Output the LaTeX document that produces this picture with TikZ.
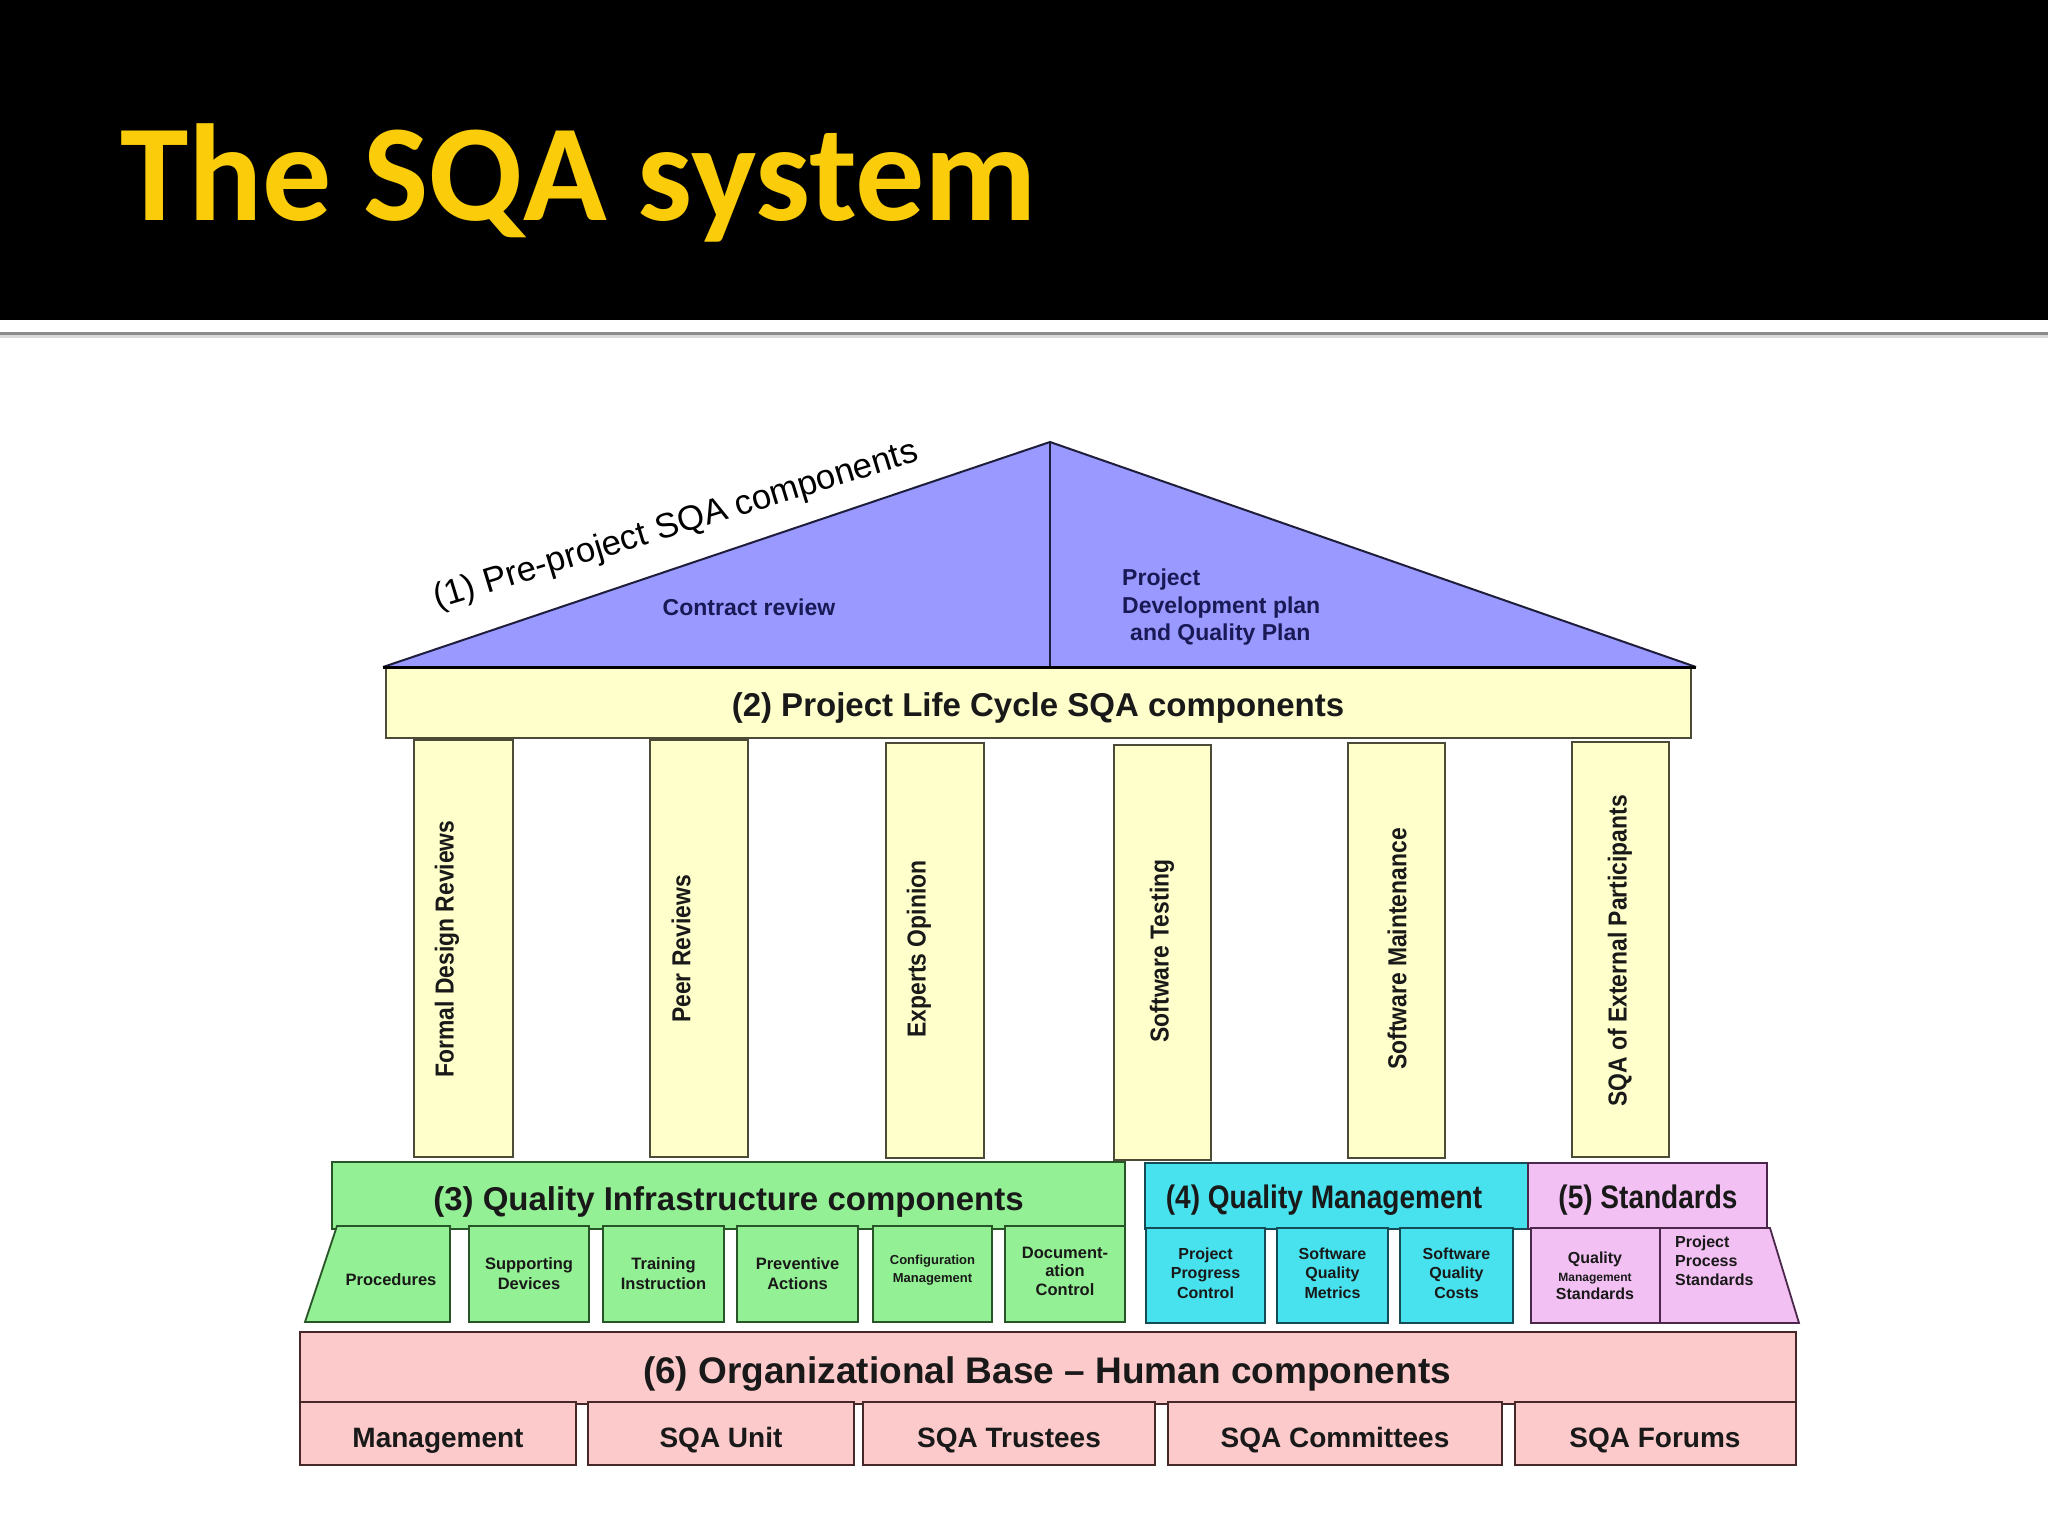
\documentclass[tikz,border=0pt]{standalone}
\usepackage{fontspec}
\setmainfont{Liberation Sans}
\newfontfamily\narrowf[FakeStretch=0.86]{Liberation Sans}
\newfontfamily\pillarf[FakeStretch=0.88]{Liberation Sans}
\newfontfamily\titlef{Carlito}
\definecolor{titlecol}{RGB}{250,204,10}
\definecolor{trifill}{RGB}{153,153,255}
\definecolor{tridraw}{RGB}{30,30,60}
\definecolor{tritext}{RGB}{25,25,85}
\definecolor{yfill}{RGB}{255,255,204}
\definecolor{ydraw}{RGB}{75,75,55}
\definecolor{gfill}{RGB}{148,240,148}
\definecolor{gdraw}{RGB}{40,85,40}
\definecolor{cfill}{RGB}{72,226,238}
\definecolor{cdraw}{RGB}{20,75,85}
\definecolor{sfill}{RGB}{242,192,242}
\definecolor{sdraw}{RGB}{75,40,75}
\definecolor{ofill}{RGB}{252,202,202}
\definecolor{odraw}{RGB}{70,40,40}
\tikzset{
  ybox/.style={draw=ydraw, fill=yfill, line width=1.6pt},
  gbox/.style={draw=gdraw, fill=gfill, line width=1.8pt},
  cbox/.style={draw=cdraw, fill=cfill, line width=1.8pt},
  sbox/.style={draw=sdraw, fill=sfill, line width=1.8pt},
  obox/.style={draw=odraw, fill=ofill, line width=1.8pt},
  lbl/.style={inner sep=0pt, text=black!90},
  pilltxt/.style={lbl, rotate=90, font=\pillarf\bfseries\fontsize{26}{30}\selectfont},
  subtxt/.style={lbl, align=center, font=\bfseries\fontsize{16.5}{20}\selectfont},
  head/.style={lbl, anchor=base, font=\bfseries\fontsize{33}{38}\selectfont},
  narrowhead/.style={lbl, anchor=base, font=\narrowf\bfseries\fontsize{32.6}{38}\selectfont},
  orgtxt/.style={lbl, anchor=base, font=\bfseries\fontsize{28}{32}\selectfont},
  tritxt/.style={inner sep=0pt, text=tritext, font=\bfseries\fontsize{23}{27.5}\selectfont},
}
\begin{document}
\begin{tikzpicture}[x=1pt,y=-1pt]
\useasboundingbox (0,0) rectangle (2048,1536);
\fill[white] (0,0) rectangle (2048,1536);
% header band
\fill[black] (0,0) rectangle (2048,320);
\node[anchor=base west, inner sep=0pt, text=titlecol, font=\titlef\bfseries\fontsize{138}{160}\selectfont] (title) at (120,220) {The SQA system};
\draw[black!45, line width=3pt] (0,333) -- (2048,333);
\draw[black!15, line width=2.5pt] (0,336.5) -- (2048,336.5);

% roof
\coordinate (apex) at (1050,442);
\coordinate (rl) at (383,667);
\coordinate (rr) at (1696,667);
\coordinate (rm) at (1050,667);
\fill[trifill] (rl) -- (apex) -- (rr) -- cycle;
\draw[tridraw, line width=2pt] (rl) -- (apex) -- (rr);
\draw[tridraw, line width=2pt] (apex) -- (rm);
\node[inner sep=0pt, anchor=base west, rotate=17, font=\fontsize{34.8}{40}\selectfont] (pre) at (437,608.5) {(1) Pre-project SQA components};
\node[tritxt, anchor=base] (contract) at (749,615) {Contract review};
\node[tritxt, anchor=base west] (plan1) at (1122,585) {Project};
\node[tritxt, anchor=base west] (plan2) at (1122,613) {Development plan};
\node[tritxt, anchor=base west] (plan3) at (1130,640) {and Quality Plan};

% beam
\path[ybox] (386,667) rectangle (1691,738);
\draw[black, line width=3pt] (rl) -- (rr);
\node[head] (beam) at (1038,716) {(2) Project Life Cycle SQA components};

% pillars
\path[ybox] (414,740) rectangle (513,1157);
\path[ybox] (650,740) rectangle (748,1157);
\path[ybox] (886,743) rectangle (984,1158);
\path[ybox] (1114,745) rectangle (1211,1160);
\path[ybox] (1348,743) rectangle (1445,1158);
\path[ybox] (1572,742) rectangle (1669,1157);
\node[pilltxt] (p1) at (447,949) {Formal Design Reviews};
\node[pilltxt] (p2) at (681,949) {Peer Reviews};
\node[pilltxt] (p3) at (919,949) {Experts Opinion};
\node[pilltxt] (p4) at (1162,951) {Software Testing};
\node[pilltxt] (p5) at (1397,949) {Software Maintenance};
\node[pilltxt] (p6) at (1620,951) {SQA of External Participants};

% (3) quality infrastructure
\path[gbox] (332,1162) rectangle (1125,1229);
\node[head] (infra) at (728.5,1210) {(3) Quality Infrastructure components};
\path[gbox] (337,1226) -- (450,1226) -- (450,1322) -- (305,1322) -- cycle;
\path[gbox] (469,1226) rectangle (589,1322);
\path[gbox] (603,1226) rectangle (724,1322);
\path[gbox] (737,1226) rectangle (858,1322);
\path[gbox] (873,1226) rectangle (992,1322);
\path[gbox] (1005,1226) rectangle (1125,1322);
\node[subtxt] (g1) at (391,1280) {Procedures};
\node[subtxt] (g2) at (529,1274) {Supporting\\Devices};
\node[subtxt] (g3) at (663.5,1274) {Training\\Instruction};
\node[subtxt] (g4) at (797.5,1274) {Preventive\\Actions};
\node[subtxt, font=\bfseries\fontsize{13}{18}\selectfont] (g5) at (932.5,1270) {Configuration\\Management};
\node[subtxt, font=\bfseries\fontsize{16.5}{18.5}\selectfont] (g6) at (1065,1271) {Document-\\ation\\Control};

% (4) quality management
\path[cbox] (1145,1163) rectangle (1528,1229);
\node[narrowhead] (qm) at (1324,1208) {(4) Quality Management};
\path[cbox] (1146,1228) rectangle (1265,1323);
\path[cbox] (1277,1228) rectangle (1388,1323);
\path[cbox] (1400,1228) rectangle (1513,1323);
\node[subtxt, font=\bfseries\fontsize{16}{19.5}\selectfont] (c1) at (1205.5,1273) {Project\\Progress\\Control};
\node[subtxt, font=\bfseries\fontsize{16}{19.5}\selectfont] (c2) at (1332.5,1273) {Software\\Quality\\Metrics};
\node[subtxt, font=\bfseries\fontsize{16}{19.5}\selectfont] (c3) at (1456.5,1273) {Software\\Quality\\Costs};

% (5) standards
\path[sbox] (1528,1163) rectangle (1767,1229);
\node[narrowhead] (std) at (1648,1208) {(5) Standards};
\path[sbox] (1531,1228) rectangle (1660,1323);
\path[sbox] (1660,1228) -- (1770,1228) -- (1799,1323) -- (1660,1323) -- cycle;
\node[subtxt, font=\bfseries\fontsize{16}{18}\selectfont] (s1) at (1595,1276) {Quality\\{\fontsize{12}{16}\selectfont Management}\\Standards};
\node[subtxt, align=left, anchor=north west, font=\bfseries\fontsize{16}{19}\selectfont] (s2) at (1675,1236) {Project\\Process\\Standards};

% (6) organizational base
\path[obox] (300,1332) rectangle (1796,1404);
\node[lbl, anchor=base, font=\bfseries\fontsize{37}{42}\selectfont] (org) at (1047,1383) {(6) Organizational Base -- Human components};
\path[obox] (300,1402) rectangle (576,1465);
\path[obox] (588,1402) rectangle (854,1465);
\path[obox] (863,1402) rectangle (1155,1465);
\path[obox] (1168,1402) rectangle (1502,1465);
\path[obox] (1515,1402) rectangle (1796,1465);
\node[orgtxt] (o1) at (438,1447) {Management};
\node[orgtxt] (o2) at (721,1447) {SQA Unit};
\node[orgtxt] (o3) at (1009,1447) {SQA Trustees};
\node[orgtxt] (o4) at (1335,1447) {SQA Committees};
\node[orgtxt] (o5) at (1655,1447) {SQA Forums};
\end{tikzpicture}
\end{document}
